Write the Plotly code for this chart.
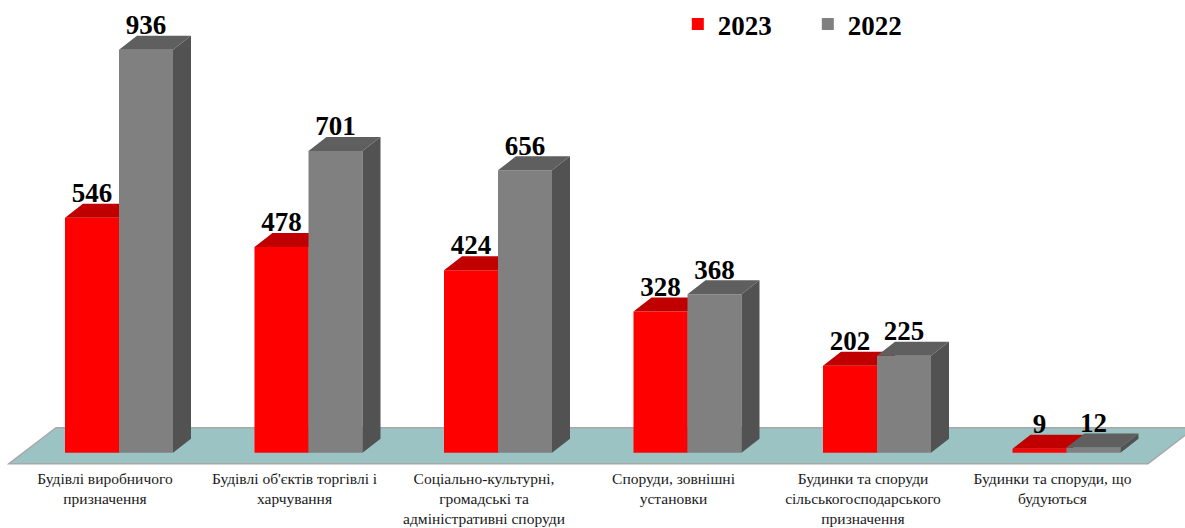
import plotly.graph_objects as go

categories = [
    "Будівлі виробничого<br>призначення",
    "Будівлі об'єктів торгівлі і<br>харчування",
    "Соціально-культурні,<br>громадські та<br>адміністративні споруди",
    "Споруди, зовнішні<br>установки",
    "Будинки та споруди<br>сільськогосподарського<br>призначення",
    "Будинки та споруди, що<br>будуються",
]
values_2023 = [546, 478, 424, 328, 202, 9]
values_2022 = [936, 701, 656, 368, 225, 12]

W, H = 1185, 528
MARGIN_B = 61
PX_PER_GROUP = 189.5
PX_PER_VALUE = 0.4305
BASE_PX = 452.7
BAR_W = 54 / PX_PER_GROUP
DX = 18 / PX_PER_GROUP
DY = 14 / PX_PER_VALUE
LABEL_DROP = 5 / PX_PER_VALUE
LABEL_SHIFT = -14 / PX_PER_GROUP
X_RANGE = [-119 / PX_PER_GROUP, (W - 119) / PX_PER_GROUP]
Y_RANGE = [(BASE_PX - (H - MARGIN_B)) / PX_PER_VALUE, BASE_PX / PX_PER_VALUE]
FONT = "Liberation Serif"
xs = list(range(len(categories)))


def faces(values, x_left):
    top_x, top_y, side_x, side_y = [], [], [], []
    for i, v in zip(xs, values):
        l = i + x_left
        r = l + BAR_W
        top_x += [l, r, r + DX, l + DX, l, None]
        top_y += [v, v, v + DY, v + DY, v, None]
        side_x += [r, r + DX, r + DX, r, r, None]
        side_y += [0, DY, v + DY, v, 0, None]
    return top_x, top_y, side_x, side_y


def poly(x, y, color, xa, ya):
    return go.Scatter(x=x, y=y, mode="none", fill="toself", fillcolor=color,
                      showlegend=False, hoverinfo="skip", xaxis=xa, yaxis=ya)


fig = go.Figure()
rt_x, rt_y, rs_x, rs_y = faces(values_2023, -BAR_W)
gt_x, gt_y, gs_x, gs_y = faces(values_2022, 0)

fig.add_trace(go.Bar(name="2023", x=xs, y=values_2023, width=BAR_W, offset=-BAR_W,
                     marker=dict(color="#ff0000", line_width=0)))
fig.add_trace(poly(rs_x, rs_y, "#a00000", "x", "y"))
fig.add_trace(poly(rt_x, rt_y, "#c00000", "x", "y"))
fig.add_trace(go.Bar(name="2022", x=xs, y=values_2022, width=BAR_W, offset=0,
                     marker=dict(color="#808080", line_width=0), xaxis="x2", yaxis="y2"))
fig.add_trace(poly(gs_x, gs_y, "#525252", "x2", "y2"))
fig.add_trace(poly(gt_x, gt_y, "#5f5f5f", "x2", "y2"))

label_font = dict(family=FONT, size=27, color="#000000", weight="bold")
for vals, off in ((values_2023, -BAR_W / 2), (values_2022, BAR_W / 2)):
    fig.add_trace(go.Scatter(
        x=[i + off for i in xs], y=[v + DY - LABEL_DROP for v in vals], mode="text",
        text=[str(v) for v in vals], textposition="top center", textfont=label_font,
        showlegend=False, hoverinfo="skip", cliponaxis=False, xaxis="x2", yaxis="y2"))

# floor plane, expressed in axis units
floor_left = (9 - 119) / PX_PER_GROUP
floor_right = (1148 - 119) / PX_PER_GROUP
floor_slant = 47 / PX_PER_GROUP
floor_front = -11 / PX_PER_VALUE
floor_back = 25 / PX_PER_VALUE
fig.add_shape(type="path", layer="below", xref="x", yref="y",
              path=(f"M{floor_left},{floor_front} L{floor_left + floor_slant},{floor_back} "
                    f"L{floor_right + floor_slant},{floor_back} L{floor_right},{floor_front} Z"),
              fillcolor="#9cc3c3", line=dict(color="#a8a8a8", width=1.5))

fig.update_layout(
    width=W, height=H,
    margin=dict(l=0, r=0, t=0, b=MARGIN_B, autoexpand=False),
    paper_bgcolor="#ffffff", plot_bgcolor="#ffffff",
    barmode="overlay",
    showlegend=True,
    legend=dict(orientation="h", x=0.572, y=1.0, xanchor="left", yanchor="top",
                font=dict(family=FONT, size=27, color="#000000", weight="bold"),
                entrywidth=85, entrywidthmode="pixels", traceorder="normal",
                bgcolor="rgba(0,0,0,0)"),
    xaxis=dict(range=X_RANGE, tickmode="array",
               tickvals=[i + LABEL_SHIFT for i in xs], ticktext=categories,
               tickangle=0, ticks="", ticklen=0, showgrid=False, zeroline=False,
               showline=False, tickfont=dict(family=FONT, size=15.5, color="#1a1a1a"),
               automargin=False),
    yaxis=dict(range=Y_RANGE, visible=False, showgrid=False, zeroline=False),
    xaxis2=dict(range=X_RANGE, overlaying="x", visible=False, showgrid=False, zeroline=False),
    yaxis2=dict(range=Y_RANGE, overlaying="y", visible=False, showgrid=False, zeroline=False),
)

fig.write_html("out.html", config={"displayModeBar": False},
               post_script="document.body.style.margin='0';document.body.style.overflow='hidden';")
